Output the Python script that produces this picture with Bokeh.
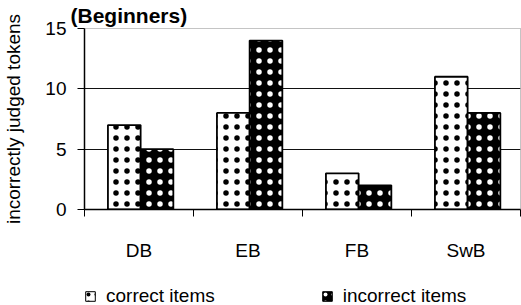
from bokeh.plotting import figure
from bokeh.layouts import column
from bokeh.models import ColumnDataSource, Range1d, FixedTicker, Legend, LegendItem
from bokeh.transform import dodge
from bokeh.embed import file_html
from bokeh.resources import INLINE

categories = ["DB", "EB", "FB", "SwB"]
correct_items = [7, 8, 3, 11]
incorrect_items = [5, 14, 2, 8]
y_ticks = [0, 5, 10, 15]
title_text = "(Beginners)"
y_label = "incorrectly judged tokens"
series_names = ["correct items", "incorrect items"]

FONT = "Liberation Sans"

xs = list(range(len(categories)))
src = ColumnDataSource(dict(x=xs, cat=categories, correct=correct_items, incorrect=incorrect_items))

STYLE_CORRECT = dict(fill_color="white", line_color="black", line_width=1.8,
                     hatch_pattern="dot", hatch_color="black", hatch_scale=11, hatch_weight=0.1)
STYLE_INCORRECT = dict(fill_color="black", line_color="black", line_width=1.8,
                       hatch_pattern="dot", hatch_color="white", hatch_scale=11, hatch_weight=0.1)

p = figure(width=521, height=280, output_backend="svg", toolbar_location=None,
           x_range=Range1d(-0.5, len(categories) - 0.5), y_range=Range1d(0, 15),
           min_border_left=79, min_border_right=1, min_border_top=26, min_border_bottom=71)
p.title.text = title_text
p.title.text_font = FONT
p.title.text_font_size = "21px"
p.title.text_font_style = "bold"
p.title.text_color = "black"
p.title.text_line_height = 1.0
p.title.standoff = 3
p.title.align = "left"
p.title.offset = -14
p.background_fill_color = "white"
p.border_fill_color = "white"
p.outline_line_color = "#888888"
p.outline_line_dash = "1 1"

# bars
r1 = p.vbar(x=dodge("x", -0.135), top="correct", width=0.3, source=src, **STYLE_CORRECT)
r2 = p.vbar(x=dodge("x", 0.165), top="incorrect", width=0.3, source=src, **STYLE_INCORRECT)

# grid
p.xgrid.grid_line_color = None
p.ygrid.grid_line_color = "#111111"
p.ygrid.grid_line_width = 1
p.ygrid.ticker = FixedTicker(ticks=y_ticks)

# y axis
p.yaxis.ticker = FixedTicker(ticks=y_ticks)
p.yaxis.axis_line_color = "black"
p.yaxis.axis_line_width = 1.5
p.yaxis.major_tick_out = 7
p.yaxis.major_tick_in = 0
p.yaxis.minor_tick_line_color = None
p.yaxis.major_label_text_font = FONT
p.yaxis.major_label_text_font_size = "19px"
p.yaxis.major_label_text_color = "black"
p.yaxis.major_label_standoff = 11
p.yaxis.axis_label = y_label
p.yaxis.axis_label_text_font = FONT
p.yaxis.axis_label_text_font_size = "19px"
p.yaxis.axis_label_text_font_style = "normal"
p.yaxis.axis_label_text_color = "black"
p.yaxis.axis_label_standoff = 18

# x axis: labels at category centres, ticks at boundaries
bounds = [i - 0.5 for i in range(len(categories) + 1)]
p.xaxis.ticker = FixedTicker(ticks=xs, minor_ticks=bounds)
p.xaxis.major_label_overrides = {i: c for i, c in zip(xs, categories)}
p.xaxis.major_tick_line_color = None
p.xaxis.major_tick_out = 0
p.xaxis.major_tick_in = 0
p.xaxis.minor_tick_line_color = "black"
p.xaxis.minor_tick_out = 7
p.xaxis.minor_tick_in = 0
p.xaxis.axis_line_color = "black"
p.xaxis.axis_line_width = 1.5
p.xaxis.major_label_text_font = FONT
p.xaxis.major_label_text_font_size = "19px"
p.xaxis.major_label_text_color = "black"
p.xaxis.major_label_standoff = 23

# legend strip underneath the chart (renderers hidden; only their legend swatches show)
lg = figure(width=521, height=25, output_backend="svg", toolbar_location=None,
            x_range=Range1d(-0.5, len(categories) - 0.5), y_range=Range1d(0, 15),
            x_axis_type=None, y_axis_type=None,
            min_border_left=0, min_border_right=0, min_border_top=0, min_border_bottom=0)
lg.outline_line_color = None
lg.xgrid.grid_line_color = None
lg.ygrid.grid_line_color = None
lg.background_fill_color = "white"
lg.border_fill_color = "white"
SW_CORRECT = dict(STYLE_CORRECT, line_width=1, hatch_scale=8)
SW_INCORRECT = dict(STYLE_INCORRECT, line_width=1, hatch_scale=8)
e1 = lg.vbar(x="x", top="correct", width=0.3, source=src, visible=False, **SW_CORRECT)
e2 = lg.vbar(x="x", top="incorrect", width=0.3, source=src, visible=False, **SW_INCORRECT)
legend = Legend(items=[LegendItem(label=series_names[0], renderers=[e1]),
                       LegendItem(label=series_names[1], renderers=[e2])],
                location=(0, -2), orientation="horizontal",
                glyph_width=12, glyph_height=12, label_standoff=10, spacing=106,
                padding=0, margin=0, border_line_color=None, background_fill_alpha=0,
                inactive_fill_alpha=0,
                label_text_font=FONT, label_text_font_size="19px", label_text_color="black")
lg.add_layout(legend, "center")

layout = column(p, lg, spacing=0)
open("out.html", "w").write(file_html(layout, INLINE))
